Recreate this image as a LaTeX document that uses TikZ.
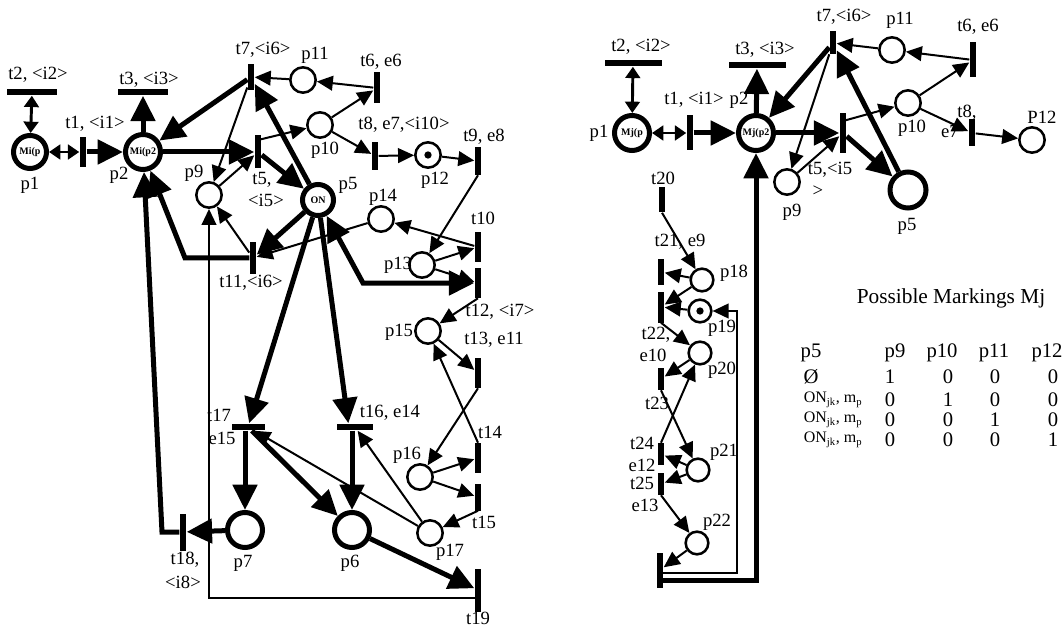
\documentclass[tikz,border=0pt]{standalone}
\usepackage{fontspec}
\setmainfont{Liberation Serif}
\usetikzlibrary{arrows.meta,calc}
\begin{document}
\begin{tikzpicture}[x=0.75pt,y=-0.75pt,
  every node/.style={inner sep=0pt},
  lbl/.style={font=\fontsize{14}{15}\selectfont},
  place/.style={circle,draw,line width=1.9pt,minimum size=19pt,fill=white},
  splace/.style={circle,draw,line width=1.9pt,minimum size=17pt,fill=white},
  bigplace/.style={circle,draw,line width=3.75pt,minimum size=26.25pt,fill=white,font=\bfseries\fontsize{7.5}{7.5}\selectfont},
  vbar/.style={rectangle,fill=black,minimum width=5.2pt,minimum height=#1},
  hbar/.style={rectangle,fill=black,minimum height=5.2pt,minimum width=#1},
  token/.style={circle,fill=black,minimum size=5.5pt},
  thinarc/.style={line width=1.5pt,-{Triangle[length=12pt,width=11pt]}},
  thickarc/.style={line width=3.75pt,-{Triangle[length=19pt,width=18pt]}},
  biarc/.style={line width=2.2pt,{Triangle[length=8.5pt,width=11pt]}-{Triangle[length=8.5pt,width=11pt]}},
  bithick/.style={line width=3.75pt,{Triangle[length=19pt,width=18pt]}-{Triangle[length=19pt,width=18pt]}},
  tabf/.style={font=\fontsize{15.5}{17}\selectfont},
  onf/.style={font=\fontsize{12}{13}\selectfont}
]
\useasboundingbox (0,0) rectangle (1063,627);
\fill[white] (0,0) rectangle (1063,627);

% ================= LEFT NET =================
% places
\node[bigplace,minimum size=24.75pt] (p1) at (30,152) {Mi(p};
\node[bigplace] (p2) at (143,152) {Mi(p2};
\node[bigplace,minimum size=23.25pt] (p5) at (318,200) {ON};
\node[bigplace] (p6) at (352,530) {};
\node[bigplace] (p7) at (245,530) {};
\node[place] (p9) at (209,195) {};
\node[place] (p10) at (320,125) {};
\node[place] (p11) at (303,80) {};
\node[place] (p12) at (428,155) {};
\node[token] (k12) at (p12.center) {};
\node[place] (p13) at (422,265) {};
\node[place] (p14) at (381,219) {};
\node[place] (p15) at (428,331) {};
\node[place] (p16) at (420,477) {};
\node[place] (p17) at (430,533) {};
% transitions
\node[vbar=22.5pt] (t1) at (83,152) {};
\node[hbar=37.5pt] (t2) at (32,92) {};
\node[hbar=37.5pt] (t3) at (143,92) {};
\node[vbar=24.75pt] (t5) at (258,152) {};
\node[vbar=23.25pt] (t6) at (377,88) {};
\node[vbar=19.5pt] (t7) at (251,77) {};
\node[vbar=21pt] (t8) at (375,156) {};
\node[vbar=21pt] (t9) at (478,161) {};
\node[vbar=22.5pt] (t10) at (478,247) {};
\node[vbar=23.25pt] (t11) at (253,258) {};
\node[vbar=22.5pt] (t12) at (478,283) {};
\node[vbar=22.5pt] (t13) at (478,373) {};
\node[vbar=22.5pt] (t14) at (478,458) {};
\node[vbar=20.25pt] (t15) at (478,497) {};
\node[hbar=27pt] (t16) at (355,427) {};
\node[hbar=24.75pt] (t17) at (248,427) {};
\node[vbar=27.75pt] (t18) at (183,532) {};
\node[vbar=32.25pt] (t19) at (478,590) {};
% bend points
\coordinate (c11) at (185,258);
\coordinate (c12) at (363,283);
\coordinate (c18) at (162,532);
\coordinate (c19) at (209,598);

% arcs
\draw[biarc] (t2) -- (p1);
\draw[biarc] (p1) -- (t1);
\draw[thickarc] (t1) -- (p2);
\draw[thickarc] (p2) -- (t3);
\draw[thickarc] (p2) -- (t5);
\draw[thickarc] (t7) -- (p2);
\draw[thinarc] (t7) -- (p9);
\draw[thinarc] (p11) -- (t7);
\draw[thinarc] (t6) -- (p11);
\draw[thinarc] (p10) -- (t6);
\draw[thinarc] (p10) -- (t8);
\draw[thinarc] (t8) -- (p12);
\draw[thinarc] (p12) -- (t9);
\draw[thinarc] (t9.south) -- (p13);
\draw[thinarc] ([yshift=9pt]t5.center) -- (p10);
\draw[thinarc] (p9) -- (t5);
\draw[thickarc] (t5) -- (p5);
\draw[thickarc] (p5) -- (t7);
\draw[thickarc] (p5) -- (t11);
\draw[thinarc] (t11) -- (p9);
\draw[thickarc] (t11) -- (c11) -- (p2);
\draw[thinarc] (p14) -- (t11);
\draw[thinarc] (t10) -- (p14);
\draw[thinarc] (p13) -- (t10);
\draw[thinarc] (p13) -- (t12);
\draw[bithick] (p5) -- (c12) -- (t12);
\draw[thinarc] (t12.south) -- (p15);
\draw[thinarc] (p15) -- (t13);
\draw[thinarc] (t13.south) -- (p16);
\draw[thinarc] (t14.north) -- (p15);
\draw[thinarc] (p16) -- (t14);
\draw[thinarc] (p16) -- (t15);
\draw[thinarc] (t15.south) -- (p17);
\draw[thinarc] (p17) -- (t16);
\draw[thinarc] (p17) -- (t17);
\draw[thickarc] (p5) -- (t17);
\draw[thickarc] (p5) -- ([xshift=-5pt]t16.north);
\draw[thickarc] (t17.south -| p7) -- (p7);
\draw[thickarc] (t16.south -| p6) -- (p6);
\draw[thickarc] (t17) -- (p6);
\draw[thickarc] (p6) -- (t19);
\draw[thickarc] (p7) -- (t18);
\draw[thickarc] (t18) -- (c18) -- (p2);
\draw[thinarc] (t19 |- c19) -- (c19) -- (p9);

% labels
\node[lbl] (Lt2) at (38,75) {t2, <i2>};
\node[lbl] (Lt3) at (149,80) {t3, <i3>};
\node[lbl] (Lt1) at (95,124) {t1, <i1>};
\node[lbl] (Lp1) at (30,185) {p1};
\node[lbl] (Lp2) at (119,175) {p2};
\node[lbl] (Lp9) at (194,173) {p9};
\node[lbl] (Lt7) at (263,50) {t7,<i6>};
\node[lbl] (Lp11) at (315,55) {p11};
\node[lbl] (Lt6) at (381,62) {t6, e6};
\node[lbl] (Lp10) at (325,150) {p10};
\node[lbl] (Lt8) at (404,125) {t8, e7,<i10>};
\node[lbl] (Lt9) at (484,137) {t9, e8};
\node[lbl] (Lp12) at (435,180) {p12};
\node[lbl] (Lt5a) at (262,180) {t5,};
\node[lbl] (Lt5b) at (266,200) {<i5>};
\node[lbl] (Lp5) at (348,185) {p5};
\node[lbl] (Lp14) at (383,197) {p14};
\node[lbl] (Lt10) at (483,218) {t10};
\node[lbl] (Lp13) at (398,265) {p13};
\node[lbl] (Lt11) at (251,283) {t11,<i6>};
\node[lbl] (Lt12) at (500,312) {t12, <i7>};
\node[lbl] (Lp15) at (399,332) {p15};
\node[lbl] (Lt13) at (494,340) {t13, e11};
\node[lbl] (Lt14) at (490,432) {t14};
\node[lbl] (Lp16) at (407,455) {p16};
\node[lbl] (Lt15) at (484,522) {t15};
\node[lbl] (Lp17) at (450,552) {p17};
\node[lbl] (Lt16) at (390,413) {t16, e14};
\node[lbl] (Lt17) at (219,415) {t17};
\node[lbl] (Le15) at (222,438) {e15};
\node[lbl] (Lp7) at (243,563) {p7};
\node[lbl] (Lp6) at (350,563) {p6};
\node[lbl] (Lt18a) at (185,560) {t18,};
\node[lbl] (Lt18b) at (183,582) {<i8>};
\node[lbl] (Lt19) at (478,618) {t19};

% ================= RIGHT NET =================
\node[bigplace] (q1) at (632,133) {Mj(p};
\node[bigplace] (q2) at (756,133) {Mj(p2};
\node[bigplace,minimum size=27pt] (q5) at (908,190) {};
\node[place] (q9) at (787,182) {};
\node[place] (q10) at (908,103) {};
\node[place] (q11) at (892,50) {};
\node[place] (q12) at (1032,140) {};
\node[splace] (q18) at (702,280) {};
\node[splace] (q19) at (700,311) {};
\node[token] (k19) at (q19.center) {};
\node[splace] (q20) at (700,353) {};
\node[splace] (q21) at (698,470) {};
\node[splace] (q22) at (697,543) {};

\node[vbar=26.25pt] (u1) at (690,133) {};
\node[hbar=42.75pt] (u2) at (633,63) {};
\node[hbar=42.75pt] (u3) at (757,65) {};
\node[vbar=30pt] (u5) at (843,133) {};
\node[vbar=26.25pt] (u6) at (973,60) {};
\node[vbar=17.25pt] (u7) at (833,43) {};
\node[vbar=20.25pt] (u8) at (972,133) {};
\node[vbar=18.75pt] (u20) at (662,200) {};
\node[vbar=18.75pt] (u21) at (661,272) {};
\node[vbar=23.25pt] (u22) at (661,307) {};
\node[vbar=16.5pt] (u23) at (661,379) {};
\node[vbar=16.5pt] (u24) at (661,454) {};
\node[vbar=16.5pt] (u25) at (661,484) {};
\node[vbar=26.25pt] (u26) at (660,570) {};

\coordinate (d1) at (737,573);
\coordinate (d2) at (737,311);
\coordinate (d3) at (756,580);

\draw[biarc] (u2) -- (q1);
\draw[biarc] (q1) -- (u1);
\draw[thickarc] (u1) -- (q2);
\draw[thickarc] (q2) -- (u3);
\draw[thickarc] (q2) -- (u5);
\draw[thickarc] (u7) -- (q2);
\draw[thinarc] (u7) -- (q9);
\draw[thinarc] (q11) -- (u7);
\draw[thinarc] (u6) -- (q11);
\draw[thinarc] (q10) -- (u6);
\draw[thinarc] (q10) -- (u8);
\draw[thinarc] (u8) -- (q12);
\draw[thinarc] ([yshift=9pt]u5.center) -- (q10);
\draw[thinarc] (q9) -- (u5);
\draw[thickarc] (u5) -- (q5);
\draw[thickarc] (q5) -- (u7);
\draw[thinarc] (u20.south) -- (q18);
\draw[thinarc] (q18) -- (u21);
\draw[thinarc] (q18) -- (u22);
\draw[thinarc] (q19) -- (u22);
\draw[thinarc] (u22.south) -- (q20);
\draw[thinarc] (q20) -- (u23);
\draw[thinarc] (u23.south) -- (q21);
\draw[thinarc] (u24.north) -- (q20);
\draw[thinarc] (q21) -- (u24);
\draw[thinarc] (q21) -- (u25);
\draw[thinarc] (u25.south) -- (q22);
\draw[thinarc] (q22) -- (u26);
\draw[thinarc] (u26 |- d1) -- (d1) -- (d2) -- (q19);
\draw[thickarc] (u26 |- d3) -- (d3) -- (q2);

\node[lbl] (Mt2) at (641,47) {t2, <i2>};
\node[lbl] (Mt3) at (765,50) {t3, <i3>};
\node[lbl] (Mt1) at (694,100) {t1, <i1>};
\node[lbl] (Mp2) at (739,100) {p2};
\node[lbl] (Mp1) at (599,133) {p1};
\node[lbl] (Mt7) at (844,17) {t7,<i6>};
\node[lbl] (Mp11) at (900,20) {p11};
\node[lbl] (Mt6) at (978,27) {t6, e6};
\node[lbl] (Mp10) at (912,128) {p10};
\node[lbl] (Mt8) at (967,113) {t8,};
\node[lbl] (Me7) at (950,131) {e7};
\node[lbl] (MP12) at (1042,117) {P12};
\node[lbl] (Mt5) at (830,170) {t5,<i5};
\node[lbl] (Mt5b) at (818,191) {>};
\node[lbl] (Mp9) at (792,212) {p9};
\node[lbl] (Mp5) at (907,226) {p5};
\node[lbl] (Mt20) at (663,178) {t20};
\node[lbl] (Mt21) at (680,242) {t21, e9};
\node[lbl] (Mp18) at (734,273) {p18};
\node[lbl] (Mt22) at (656,335) {t22,};
\node[lbl] (Me10) at (653,355) {e10};
\node[lbl] (Mp19) at (722,328) {p19};
\node[lbl] (Mp20) at (722,370) {p20};
\node[lbl] (Mt23) at (657,403) {t23};
\node[lbl] (Mt24) at (642,443) {t24};
\node[lbl] (Me12) at (642,465) {e12};
\node[lbl] (Mt25) at (642,483) {t25};
\node[lbl] (Me13) at (645,505) {e13};
\node[lbl] (Mp21) at (724,452) {p21};
\node[lbl] (Mp22) at (717,522) {p22};

% ================= TABLE =================
\node[font=\fontsize{16}{18}\selectfont] (title) at (951,298) {Possible Markings Mj};
\node[tabf] (h5) at (811,353) {p5};
\node[tabf] (h9) at (895,353) {p9};
\node[tabf] (h10) at (942,353) {p10};
\node[tabf] (h11) at (994,353) {p11};
\node[tabf] (h12) at (1047,353) {p12};
\node[tabf] (r1a) at (811,377) {Ø};
\node[tabf] (r1b) at (890,377) {1};
\node[tabf] (r1c) at (948,377) {0};
\node[tabf] (r1d) at (995,377) {0};
\node[tabf] (r1e) at (1053,377) {0};
\foreach \y/\a/\b/\c/\d [count=\i] in {400/0/1/0/0,420/0/0/1/0,440/0/0/0/1}{
  \node[onf] (on\i) at (833,\y) {ON\textsubscript{jk}, m\textsubscript{p}};
  \node[tabf] (v\i a) at (890,\y) {\a};
  \node[tabf] (v\i b) at (948,\y) {\b};
  \node[tabf] (v\i c) at (995,\y) {\c};
  \node[tabf] (v\i d) at (1053,\y) {\d};
}
\end{tikzpicture}
\end{document}
